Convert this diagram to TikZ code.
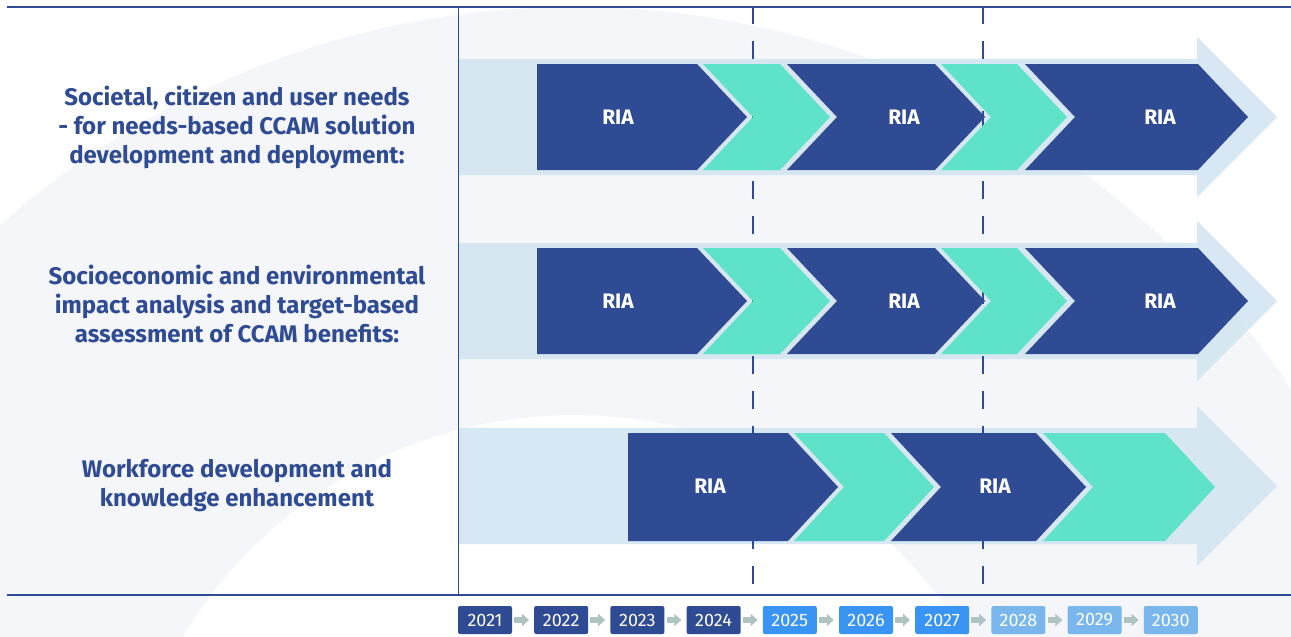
\documentclass[tikz,border=0pt]{standalone}
\usepackage{fontspec}
\setmainfont{Fira Sans}
\usetikzlibrary{arrows.meta}
\definecolor{ccamBlue}{HTML}{2F4B93}
\definecolor{ccamTeal}{HTML}{5EE2C8}
\definecolor{ccamBar}{HTML}{D4E6F2}
\definecolor{ccamBg}{HTML}{F4F6FA}
\definecolor{ccamSky}{HTML}{3A94F4}
\definecolor{ccamLight}{HTML}{78B6EC}
\definecolor{ccamGrey}{HTML}{AFC3C1}

\begin{document}
\begin{tikzpicture}[x=1pt, y=-1pt,
    rowlabel/.style={text=ccamBlue, font=\fontsize{24}{29}\selectfont\bfseries, align=center},
    ria/.style={text=white, font=\fontsize{21}{21}\selectfont\bfseries},
    yearbox/.style={text=white, font=\fontsize{18}{18}\selectfont, minimum width=54pt,
      minimum height=28pt, inner sep=0pt, rounded corners=2pt},
    yeararrow/.style={ccamGrey, line width=6pt, -{Triangle[length=7pt, width=12pt]},
      shorten <=2pt, shorten >=5pt}]
    \useasboundingbox (0,0) rectangle (1291,637);
    \fill[white] (0,0) rectangle (1291,637);
    \begin{scope}
      \clip (0,0) rectangle (1291,637);
      \fill[ccamBg, even odd rule] (574,871) circle (864pt) (574,871) circle (456pt);
    \end{scope}

    \foreach \y in {117,301,486}
      \fill[ccamBar, opacity=0.92] (458,\y-58) -- (1197,\y-58) -- (1197,\y-80) -- (1277,\y)
        -- (1197,\y+80) -- (1197,\y+58) -- (458,\y+58) -- cycle;

    \foreach \x in {753,983}
      \draw[ccamBlue, line width=1.2pt, dash pattern=on 18pt off 17pt] (\x,6) -- (\x,584);

    \foreach \y in {117,301}
      \foreach \a/\b/\c/\n in {537/697/ccamBlue/0, 703/780/ccamTeal/50, 787/935/ccamBlue/50,
          941/1017/ccamTeal/50, 1025/1198/ccamBlue/50}
        \fill[\c] (\a,\y-53) -- (\b,\y-53) -- (\b+50,\y) -- (\b,\y+53) -- (\a,\y+53)
          -- (\a+\n,\y) -- cycle;
    \foreach \a/\b/\c/\n in {628/788/ccamBlue/0, 794/884/ccamTeal/50, 891/1036/ccamBlue/50,
        1043/1165/ccamTeal/50}
      \fill[\c] (\a,433) -- (\b,433) -- (\b+50,487) -- (\b,541) -- (\a,541)
        -- (\a+\n,487) -- cycle;

    \foreach \x/\y/\n in {618/117/a1, 904/117/a2, 1160/117/a3, 618/301/b1, 904/301/b2,
        1160/301/b3, 710/486/c1, 995/486/c2}
      \node[ria] (ria-\n) at (\x,\y) {RIA};

    \draw[ccamBlue, line width=1.5pt] (7,7) -- (1291,7);
    \draw[ccamBlue, line width=1pt] (458,7) -- (458,595);
    \draw[ccamBlue, line width=1.5pt] (7,595) -- (1291,595);

    \node[rowlabel] (needs) at (237,127) {Societal, citizen and user needs\\
      - for needs-based CCAM solution\\development and deployment:};
    \node[rowlabel] (impact) at (237,304) {Socioeconomic and environmental\\
      impact analysis and target-based\\assessment of CCAM benefits:};
    \node[rowlabel] (workforce) at (237,486) {Workforce development and\\
      knowledge enhancement};

    \foreach \yr/\c [count=\i from 0] in {2021/ccamBlue, 2022/ccamBlue, 2023/ccamBlue,
        2024/ccamBlue, 2025/ccamSky, 2026/ccamSky, 2027/ccamSky, 2028/ccamLight,
        2029/ccamLight, 2030/ccamLight}
      \node[yearbox, fill=\c] (y\yr) at (485+76.2*\i,620) {\yr};
    \foreach \a/\b in {2021/2022, 2022/2023, 2023/2024, 2024/2025, 2025/2026,
        2026/2027, 2027/2028, 2028/2029, 2029/2030}
      \draw[yeararrow] (y\a) -- (y\b);
  \end{tikzpicture}
\end{document}
